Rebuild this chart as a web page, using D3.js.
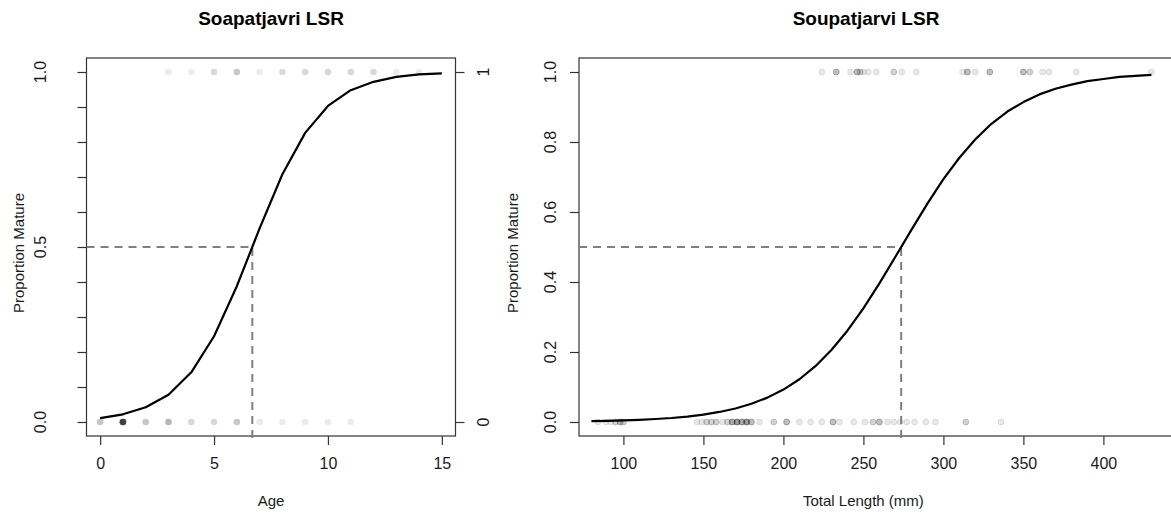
<!DOCTYPE html>
<html>
<head>
<meta charset="utf-8">
<script src="https://cdn.jsdelivr.net/npm/d3@7"></script>
<style>
  html, body { margin: 0; padding: 0; background: #fff; }
  svg { display: block; font-family: "Liberation Sans", Arial, Helvetica, sans-serif; }
</style>
</head>
<body>
<svg id="chart" width="1171" height="520"></svg>
<script>
// ---------- Age model (left panel) ----------
const ageGrid = [0, 1, 2, 3, 4, 5, 6, 7, 8, 9, 10, 11, 12, 13, 14, 15];
const ageFit = [0.011, 0.022, 0.042, 0.078, 0.142, 0.245, 0.388, 0.553, 0.708, 0.826, 0.903, 0.948, 0.972, 0.986, 0.993, 0.996];
const ageA50 = 6.68;
const immatureAges = [0, 1, 2, 3, 4, 5, 6, 7, 8, 9, 10, 11];
const immatureAgeCounts = [3, 16, 3, 4, 2, 2, 3, 1, 1, 1, 1, 1];
const matureAges = [3, 4, 5, 6, 7, 8, 9, 10, 11, 12, 13, 14];
const matureAgeCounts = [1, 1, 2, 3, 1, 2, 2, 2, 2, 2, 1, 1];
const ageTicks = [0, 5, 10, 15];
const ageRange = [0, 15];

// ---------- Length model (right panel) ----------
const lengthGrid = [80, 90, 100, 110, 120, 130, 140, 150, 160, 170, 180, 190, 200, 210, 220, 230, 240, 250, 260, 270,
                    280, 290, 300, 310, 320, 330, 340, 350, 360, 370, 380, 390, 400, 410, 420, 430];
const lengthFit = [0.0025, 0.0034, 0.0046, 0.0062, 0.0085, 0.0115, 0.0156, 0.0212, 0.0287, 0.0387, 0.0521, 0.0696,
                   0.0926, 0.1222, 0.1595, 0.2055, 0.2608, 0.3248, 0.396, 0.472, 0.549, 0.624, 0.694, 0.755,
                   0.808, 0.852, 0.887, 0.914, 0.936, 0.952, 0.964, 0.974, 0.980, 0.986, 0.989, 0.992];
const lengthA50 = 273.6;
const immatureLengths = [84, 89, 92, 95, 98, 100, 146, 149, 152, 155, 158, 162, 165, 168, 171, 174, 177, 180, 185, 194,
                         202, 210, 217, 224, 231, 235, 244, 251, 256, 260, 265, 269, 273, 277, 282, 289, 295, 314, 336];
const immatureLengthCounts = [1, 1, 1, 2, 3, 2, 1, 1, 2, 2, 2, 1, 2, 4, 5, 4, 5, 3, 1, 2,
                              3, 1, 1, 1, 3, 1, 1, 1, 2, 3, 1, 1, 1, 1, 1, 1, 1, 2, 1];
const matureLengths = [224, 233, 242, 246, 248, 250, 253, 258, 269, 274, 283, 312, 315, 320, 329, 350, 354, 362, 366, 383, 430];
const matureLengthCounts = [1, 3, 1, 3, 2, 1, 1, 1, 2, 1, 1, 1, 3, 1, 3, 3, 2, 1, 1, 1, 1];
const lengthTicks = [100, 150, 200, 250, 300, 350, 400];
const lengthRange = [86, 430];

const propTicksLeft = [0, 0.1, 0.2, 0.3, 0.4, 0.5, 0.6, 0.7, 0.8, 0.9, 1];
const propLabelsLeft = [0, 0.5, 1];
const propTicksRight = [0, 0.2, 0.4, 0.6, 0.8, 1];

const svg = d3.select("#chart");
const TEXT = "#1a1a1a";
const AXIS = "#333";

// R-style axis extent: data range plus 4% on each side
function padded([a, b]) { const p = (b - a) * 0.04; return [a - p, b + p]; }

const plotTop = 58, plotBottom = 436;
const y = d3.scaleLinear().domain(padded([0, 1])).range([plotBottom, plotTop]);

function expand(values, counts) {
  const out = [];
  values.forEach((v, i) => { for (let k = 0; k < counts[i]; k++) out.push(v); });
  return out;
}

function panel(opts) {
  const { x, title, titleX, xLabel, grid, fit, a50, imm, mat, xTicks, pointStyle } = opts;
  const [x0, x1] = x.range();
  const g = svg.append("g");

  // plot frame
  g.append("rect").attr("x", x0).attr("y", plotTop).attr("width", x1 - x0).attr("height", plotBottom - plotTop)
    .attr("fill", "none").attr("stroke", AXIS).attr("stroke-width", 1.2);

  // bottom axis
  const xa = g.append("g").attr("transform", `translate(0,${plotBottom})`)
    .call(d3.axisBottom(x).tickValues(xTicks).tickSize(9).tickSizeOuter(0).tickPadding(13));
  xa.select(".domain").remove();
  xa.selectAll(".tick line").attr("stroke", AXIS).attr("stroke-width", 1.2);
  xa.selectAll(".tick text").attr("fill", TEXT).attr("font-size", 16).attr("font-family", null);

  // x title
  g.append("text").attr("x", (x(xTicks[0]) + x(xTicks[xTicks.length - 1])) / 2 + opts.xLabelShift)
    .attr("y", 506).attr("text-anchor", "middle").attr("font-size", 15).attr("fill", TEXT).text(xLabel);

  // main title
  g.append("text").attr("x", titleX).attr("y", 25).attr("text-anchor", "middle")
    .attr("font-size", 19).attr("font-weight", "bold").attr("fill", "#000").text(title);

  // observations
  const pts = g.append("g");
  pts.selectAll("circle.imm").data(expand(imm.values, imm.counts)).join("circle")
    .attr("cx", d => x(d)).attr("cy", y(0)).attr("r", pointStyle.r)
    .attr("fill", pointStyle.fill).attr("stroke", pointStyle.stroke).attr("stroke-width", pointStyle.sw);
  pts.selectAll("circle.mat").data(expand(mat.values, mat.counts)).join("circle")
    .attr("cx", d => x(d)).attr("cy", y(1)).attr("r", pointStyle.r)
    .attr("fill", pointStyle.fill).attr("stroke", pointStyle.stroke).attr("stroke-width", pointStyle.sw);

  // 50% maturity guides
  g.append("line").attr("x1", x0).attr("x2", x(a50)).attr("y1", y(0.5)).attr("y2", y(0.5))
    .attr("stroke", "#808080").attr("stroke-width", 2).attr("stroke-dasharray", "8,6");
  g.append("line").attr("x1", x(a50)).attr("x2", x(a50)).attr("y1", plotBottom + 2).attr("y2", y(0.5))
    .attr("stroke", "#808080").attr("stroke-width", 2).attr("stroke-dasharray", "8,6");

  // fitted curve
  const line = d3.line().x((d, i) => x(grid[i])).y(d => y(d));
  g.append("path").attr("d", line(fit)).attr("fill", "none").attr("stroke", "#000").attr("stroke-width", 2.2)
    .attr("stroke-linejoin", "round");
  return g;
}

function rotLabel(g, xPos, yPos, txt, size) {
  g.append("text").attr("x", xPos).attr("y", yPos)
    .attr("transform", `rotate(-90,${xPos},${yPos})`)
    .attr("text-anchor", "middle").attr("dominant-baseline", "central")
    .attr("font-size", size).attr("fill", TEXT).text(txt);
}

// ---------- Left panel ----------
const xAge = d3.scaleLinear().domain(padded(ageRange)).range([86.5, 455.5]);
const gL = panel({
  x: xAge, title: "Soapatjavri LSR", titleX: 271, xLabel: "Age", xLabelShift: 0,
  grid: ageGrid, fit: ageFit, a50: ageA50,
  imm: { values: immatureAges, counts: immatureAgeCounts },
  mat: { values: matureAges, counts: matureAgeCounts },
  xTicks: ageTicks,
  pointStyle: { r: 3.3, fill: "rgba(0,0,0,0.08)", stroke: "none", sw: 0 }
});
// left proportion axis
const yaL = gL.append("g").attr("transform", `translate(${xAge.range()[0]},0)`)
  .call(d3.axisLeft(y).tickValues(propTicksLeft).tickSize(9).tickFormat(""));
yaL.select(".domain").remove();
yaL.selectAll(".tick line").attr("stroke", AXIS).attr("stroke-width", 1.2);
propLabelsLeft.forEach(v => rotLabel(gL, 40, y(v), d3.format(".1f")(v), 16));
rotLabel(gL, 18, (plotTop + plotBottom) / 2 + 6, "Proportion Mature", 15);
// right 0/1 axis
const yaR = gL.append("g").attr("transform", `translate(${xAge.range()[1]},0)`)
  .call(d3.axisRight(y).tickValues([0, 1]).tickSize(9).tickFormat(""));
yaR.select(".domain").remove();
yaR.selectAll(".tick line").attr("stroke", AXIS).attr("stroke-width", 1.2);
[0, 1].forEach(v => rotLabel(gL, 483, y(v), String(v), 16));

// ---------- Right panel ----------
const xLen = d3.scaleLinear().domain(padded(lengthRange)).range([579, 1173.4]);
const gR = panel({
  x: xLen, title: "Soupatjarvi LSR", titleX: 866, xLabel: "Total Length (mm)", xLabelShift: 0,
  grid: lengthGrid, fit: lengthFit, a50: lengthA50,
  imm: { values: immatureLengths, counts: immatureLengthCounts },
  mat: { values: matureLengths, counts: matureLengthCounts },
  xTicks: lengthTicks,
  pointStyle: { r: 3, fill: "rgba(0,0,0,0.09)", stroke: "rgba(0,0,0,0.09)", sw: 1 }
});
const yaRR = gR.append("g").attr("transform", `translate(${xLen.range()[0]},0)`)
  .call(d3.axisLeft(y).tickValues(propTicksRight).tickSize(9).tickFormat(""));
yaRR.select(".domain").remove();
yaRR.selectAll(".tick line").attr("stroke", AXIS).attr("stroke-width", 1.2);
propTicksRight.forEach(v => rotLabel(gR, 550, y(v), d3.format(".1f")(v), 16));
rotLabel(gR, 512, (plotTop + plotBottom) / 2 + 6, "Proportion Mature", 15);
</script>
</body>
</html>
